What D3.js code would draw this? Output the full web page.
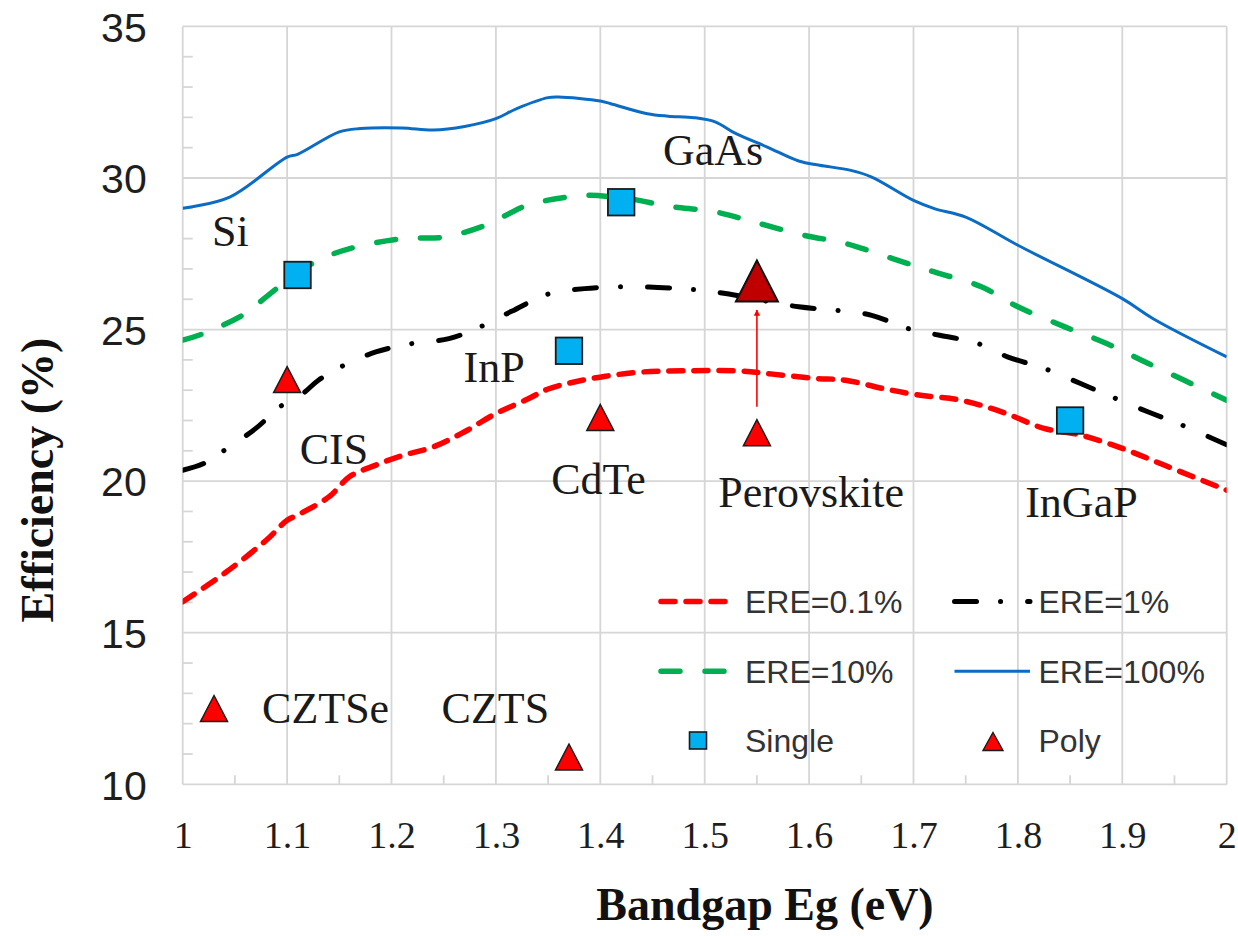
<!DOCTYPE html>
<html>
<head>
<meta charset="utf-8">
<script src="https://cdn.jsdelivr.net/npm/d3@7"></script>
<style>
  html, body { margin: 0; padding: 0; background: #fff; }
  svg { display: block; }
</style>
</head>
<body>
<svg id="chart" width="1238" height="936"></svg>
<script>
// Efficiency limit vs. bandgap for four external radiative efficiency (ERE) levels,
// with record single-crystal and polycrystalline cells overlaid.

// ---- data: [bandgap eV, efficiency %] ----
const ere01 = [
  [1.00, 16.02], [1.04, 16.96], [1.08, 18.05], [1.10, 18.71], [1.11, 18.88],
  [1.14, 19.48], [1.16, 20.15], [1.185, 20.53], [1.21, 20.84], [1.24, 21.13],
  [1.27, 21.63], [1.30, 22.23], [1.33, 22.70], [1.35, 23.04], [1.375, 23.27],
  [1.405, 23.46], [1.44, 23.60], [1.48, 23.64], [1.53, 23.64], [1.565, 23.53],
  [1.605, 23.39], [1.635, 23.33], [1.67, 23.06], [1.705, 22.84], [1.745, 22.67],
  [1.785, 22.28], [1.825, 21.74], [1.86, 21.52], [1.90, 21.08], [1.94, 20.53],
  [2.00, 19.70]
];
const ere1 = [
  [1.00, 20.36], [1.02, 20.58], [1.04, 21.02], [1.07, 21.74], [1.095, 22.50],
  [1.115, 22.89], [1.13, 23.33], [1.155, 23.83], [1.185, 24.26], [1.22, 24.54],
  [1.255, 24.70], [1.285, 25.09], [1.315, 25.60], [1.35, 26.17], [1.385, 26.35],
  [1.42, 26.41], [1.455, 26.39], [1.49, 26.32], [1.52, 26.19], [1.59, 25.75],
  [1.625, 25.64], [1.66, 25.47], [1.695, 25.03], [1.725, 24.81], [1.76, 24.56],
  [1.79, 24.10], [1.825, 23.72], [1.86, 23.22], [1.89, 22.78], [1.925, 22.28],
  [1.955, 21.88], [2.00, 21.20]
];
const ere10 = [
  [1.00, 24.65], [1.02, 24.87], [1.06, 25.53], [1.08, 26.08], [1.105, 26.74],
  [1.13, 27.29], [1.16, 27.67], [1.21, 28.00], [1.25, 28.05], [1.29, 28.44],
  [1.33, 29.10], [1.375, 29.40], [1.39, 29.43], [1.43, 29.30], [1.465, 29.07],
  [1.51, 28.88], [1.55, 28.52], [1.595, 28.11], [1.635, 27.84], [1.68, 27.34],
  [1.72, 26.90], [1.765, 26.41], [1.80, 25.75], [1.845, 25.09], [1.885, 24.54],
  [1.925, 23.88], [2.00, 22.67]
];
const ere100 = [
  [1.00, 29.00], [1.045, 29.37], [1.10, 30.69], [1.11, 30.78], [1.15, 31.52],
  [1.17, 31.63], [1.21, 31.65], [1.24, 31.58], [1.27, 31.70], [1.30, 31.96],
  [1.32, 32.29], [1.35, 32.65], [1.36, 32.67], [1.40, 32.54], [1.41, 32.45],
  [1.445, 32.12], [1.465, 32.04], [1.49, 31.99], [1.51, 31.85], [1.53, 31.46],
  [1.56, 31.02], [1.59, 30.56], [1.61, 30.42], [1.64, 30.25], [1.66, 30.03],
  [1.70, 29.26], [1.72, 28.99], [1.75, 28.71], [1.80, 27.78], [1.90, 26.02],
  [1.93, 25.35], [2.00, 24.10]
];
const seriesNames = ["ERE=0.1%", "ERE=1%", "ERE=10%", "ERE=100%"];

// record cells
const singleCells = [
  { name: "Si",    eg: 1.11, eff: 26.8 },
  { name: "GaAs",  eg: 1.42, eff: 29.2 },
  { name: "InP",   eg: 1.37, eff: 24.3 },
  { name: "InGaP", eg: 1.85, eff: 22.0 }
];
const polyCells = [
  { name: "CIS",        eg: 1.10, eff: 23.35 },
  { name: "CdTe",       eg: 1.40, eff: 22.1 },
  { name: "Perovskite", eg: 1.55, eff: 21.6 },
  { name: "CZTSe",      eg: 1.03, eff: 12.5 },
  { name: "CZTS",       eg: 1.37, eff: 10.9 }
];
const perovskiteNext = { eg: 1.55, eff: 26.6 };

// axis ticks
const xTicks = [1, 1.1, 1.2, 1.3, 1.4, 1.5, 1.6, 1.7, 1.8, 1.9, 2];
const xTickLabels = ["1", "1.1", "1.2", "1.3", "1.4", "1.5", "1.6", "1.7", "1.8", "1.9", "2"];
const yTicks = [10, 15, 20, 25, 30, 35];
const yTickLabels = ["10", "15", "20", "25", "30", "35"];

// ---- layout ----
const W = 1238, H = 936;
const plot = { left: 182.7, right: 1226.7, top: 26.4, bottom: 784.3 };
const serif = "'Liberation Serif', 'Times New Roman', Times, serif";
const sans = "'Liberation Sans', Arial, Helvetica, sans-serif";
const gridColor = "#d6d6d6";

const x = d3.scaleLinear().domain([1, 2]).range([plot.left, plot.right]);
const y = d3.scaleLinear().domain([10, 35]).range([plot.bottom, plot.top]);

const svg = d3.select("#chart");
svg.append("rect").attr("width", W).attr("height", H).attr("fill", "#fff");

// grid
const grid = svg.append("g").attr("stroke", gridColor).attr("stroke-width", 1.8);
grid.selectAll("line.vx").data(xTicks).join("line")
  .attr("x1", d => x(d)).attr("x2", d => x(d))
  .attr("y1", plot.top).attr("y2", plot.bottom);
grid.selectAll("line.hy").data(yTicks).join("line")
  .attr("x1", plot.left).attr("x2", plot.right)
  .attr("y1", d => y(d)).attr("y2", d => y(d));

// minor ticks (inside the plot)
const yMinor = d3.range(11, 35).filter(v => v % 5 !== 0);
grid.selectAll("line.my").data(yMinor).join("line")
  .attr("x1", plot.left).attr("x2", plot.left + 10)
  .attr("y1", d => y(d)).attr("y2", d => y(d));
const xMinor = d3.range(0, 10).map(i => 1.05 + i * 0.1);
grid.selectAll("line.mx").data(xMinor).join("line")
  .attr("x1", d => x(d)).attr("x2", d => x(d))
  .attr("y1", plot.bottom).attr("y2", plot.bottom - 9);

// axes (labels only; lines come from the grid)
const yAxis = d3.axisLeft(y).tickValues(yTicks)
  .tickFormat((d, i) => yTickLabels[i]).tickSize(0).tickPadding(36);
const gy = svg.append("g").attr("transform", `translate(${plot.left},0)`).call(yAxis);
gy.select(".domain").remove();
gy.selectAll("text")
  .attr("font-family", sans).attr("font-size", 41).attr("fill", "#1e1e1e")
  .attr("dy", "0.36em");

const xAxis = d3.axisBottom(x).tickValues(xTicks)
  .tickFormat((d, i) => xTickLabels[i]).tickSize(0);
const gx = svg.append("g").attr("transform", `translate(0,${plot.bottom})`).call(xAxis);
gx.select(".domain").remove();
gx.selectAll("text")
  .attr("font-family", serif).attr("font-size", 38).attr("fill", "#1e1e1e")
  .attr("y", 64).attr("dy", 0);

// axis titles
svg.append("text")
  .attr("x", 765).attr("y", 920).attr("text-anchor", "middle")
  .attr("font-family", serif).attr("font-weight", "bold").attr("font-size", 46)
  .attr("fill", "#111").text("Bandgap Eg (eV)");
svg.append("text")
  .attr("transform", "translate(53,480) rotate(-90)").attr("text-anchor", "middle")
  .attr("font-family", serif).attr("font-weight", "bold").attr("font-size", 46)
  .attr("fill", "#111").text("Efficiency (%)");

// ERE curves
const styles = {
  "ERE=0.1%": { color: "#ff0000", width: 5.5, dash: "14,11", cap: "round" },
  "ERE=1%":   { color: "#000000", width: 5,   dash: "22,24,0.1,27", cap: "round" },
  "ERE=10%":  { color: "#00b050", width: 5.5, dash: "19,25", cap: "round" },
  "ERE=100%": { color: "#0a6cc4", width: 3,   dash: null, cap: "butt" }
};
const curves = [ere01, ere1, ere10, ere100];
const line = d3.line().x(d => x(d[0])).y(d => y(d[1])).curve(d3.curveCatmullRom.alpha(0.5));
svg.append("defs").append("clipPath").attr("id", "plotClip")
  .append("rect").attr("x", plot.left).attr("y", plot.top)
  .attr("width", plot.right - plot.left).attr("height", plot.bottom - plot.top);
const curveG = svg.append("g").attr("clip-path", "url(#plotClip)");
curves.forEach((pts, i) => {
  const s = styles[seriesNames[i]];
  curveG.append("path").datum(pts)
    .attr("d", line).attr("fill", "none")
    .attr("stroke", s.color).attr("stroke-width", s.width)
    .attr("stroke-linecap", s.cap).attr("stroke-linejoin", "round")
    .attr("stroke-dasharray", s.dash);
});

// markers
function triPath(cx, cy, w, h) {
  return `M${cx},${cy - h / 2}L${cx + w / 2},${cy + h / 2}L${cx - w / 2},${cy + h / 2}Z`;
}

// arrow from current perovskite record to the projected value
svg.append("defs").append("marker")
  .attr("id", "arrowHead").attr("viewBox", "0 0 10 10")
  .attr("refX", 9).attr("refY", 5).attr("markerWidth", 4).attr("markerHeight", 4)
  .attr("orient", "auto")
  .append("path").attr("d", "M0,0L10,5L0,10Z").attr("fill", "#ff0000");
const pv = polyCells.find(c => c.name === "Perovskite");
svg.append("line")
  .attr("x1", x(pv.eg)).attr("x2", x(perovskiteNext.eg))
  .attr("y1", y(pv.eff) - 26).attr("y2", y(perovskiteNext.eff) + 29)
  .attr("stroke", "#ff0000").attr("stroke-width", 1.6)
  .attr("marker-end", "url(#arrowHead)");

svg.append("g").selectAll("rect").data(singleCells).join("rect")
  .attr("x", d => x(d.eg) - 13.25).attr("y", d => y(d.eff) - 13.25)
  .attr("width", 26.5).attr("height", 26.5)
  .attr("fill", "#00b0f0").attr("stroke", "#1b1b1b").attr("stroke-width", 1.8);

svg.append("g").selectAll("path").data(polyCells).join("path")
  .attr("d", d => triPath(x(d.eg), y(d.eff), 27, 26))
  .attr("fill", "#ff0000").attr("stroke", "#1b1b1b").attr("stroke-width", 1.5)
  .attr("stroke-linejoin", "miter");

svg.append("path")
  .attr("d", triPath(x(perovskiteNext.eg), y(perovskiteNext.eff), 42, 41))
  .attr("fill", "#c00000").attr("stroke", "#111").attr("stroke-width", 2);

// material labels, anchored in data units (text start, baseline)
const labelAnchors = [
  { text: "Si",         eg: 1.028, eff: 27.75 },
  { text: "GaAs",       eg: 1.460, eff: 30.42 },
  { text: "InP",        eg: 1.269, eff: 23.27 },
  { text: "CIS",        eg: 1.112, eff: 20.58 },
  { text: "CdTe",       eg: 1.353, eff: 19.56 },
  { text: "Perovskite", eg: 1.513, eff: 19.15 },
  { text: "InGaP",      eg: 1.807, eff: 18.82 },
  { text: "CZTSe",      eg: 1.076, eff: 12.01 },
  { text: "CZTS",       eg: 1.248, eff: 12.01 }
];
svg.append("g").selectAll("text").data(labelAnchors).join("text")
  .attr("x", d => x(d.eg)).attr("y", d => y(d.eff))
  .attr("font-family", serif).attr("font-size", 44).attr("fill", "#1a1a1a")
  .text(d => d.text);

// legend
const legendItems = [
  { label: "ERE=0.1%", kind: "line", key: "ERE=0.1%", col: 0, row: 0 },
  { label: "ERE=1%",   kind: "line", key: "ERE=1%",   col: 1, row: 0 },
  { label: "ERE=10%",  kind: "line", key: "ERE=10%",  col: 0, row: 1 },
  { label: "ERE=100%", kind: "line", key: "ERE=100%", col: 1, row: 1 },
  { label: "Single",   kind: "square", col: 0, row: 2 },
  { label: "Poly",     kind: "triangle", col: 1, row: 2 }
];
const legCols = [{ sx0: 661, sx1: 727, tx: 745 }, { sx0: 954.5, sx1: 1030, tx: 1038.5 }];
const legRows = [601.5, 671.2, 740.5];
const lg = svg.append("g");
legendItems.forEach(it => {
  const c = legCols[it.col], cy = legRows[it.row];
  if (it.kind === "line") {
    const s = styles[it.key];
    lg.append("line").attr("x1", c.sx0).attr("x2", c.sx1).attr("y1", cy).attr("y2", cy)
      .attr("stroke", s.color).attr("stroke-width", s.width)
      .attr("stroke-linecap", s.cap).attr("stroke-dasharray", s.dash);
  } else if (it.kind === "square") {
    lg.append("rect").attr("x", 698 - 8.5).attr("y", cy - 8.5)
      .attr("width", 17).attr("height", 17)
      .attr("fill", "#00b0f0").attr("stroke", "#1b1b1b").attr("stroke-width", 1.6);
  } else {
    lg.append("path").attr("d", triPath(993, cy + 1, 20, 18))
      .attr("fill", "#ff0000").attr("stroke", "#1b1b1b").attr("stroke-width", 1.4);
  }
  lg.append("text").attr("x", c.tx).attr("y", cy + 11.5)
    .attr("font-family", sans).attr("font-size", 32).attr("fill", "#333")
    .text(it.label);
});
</script>
</body>
</html>
